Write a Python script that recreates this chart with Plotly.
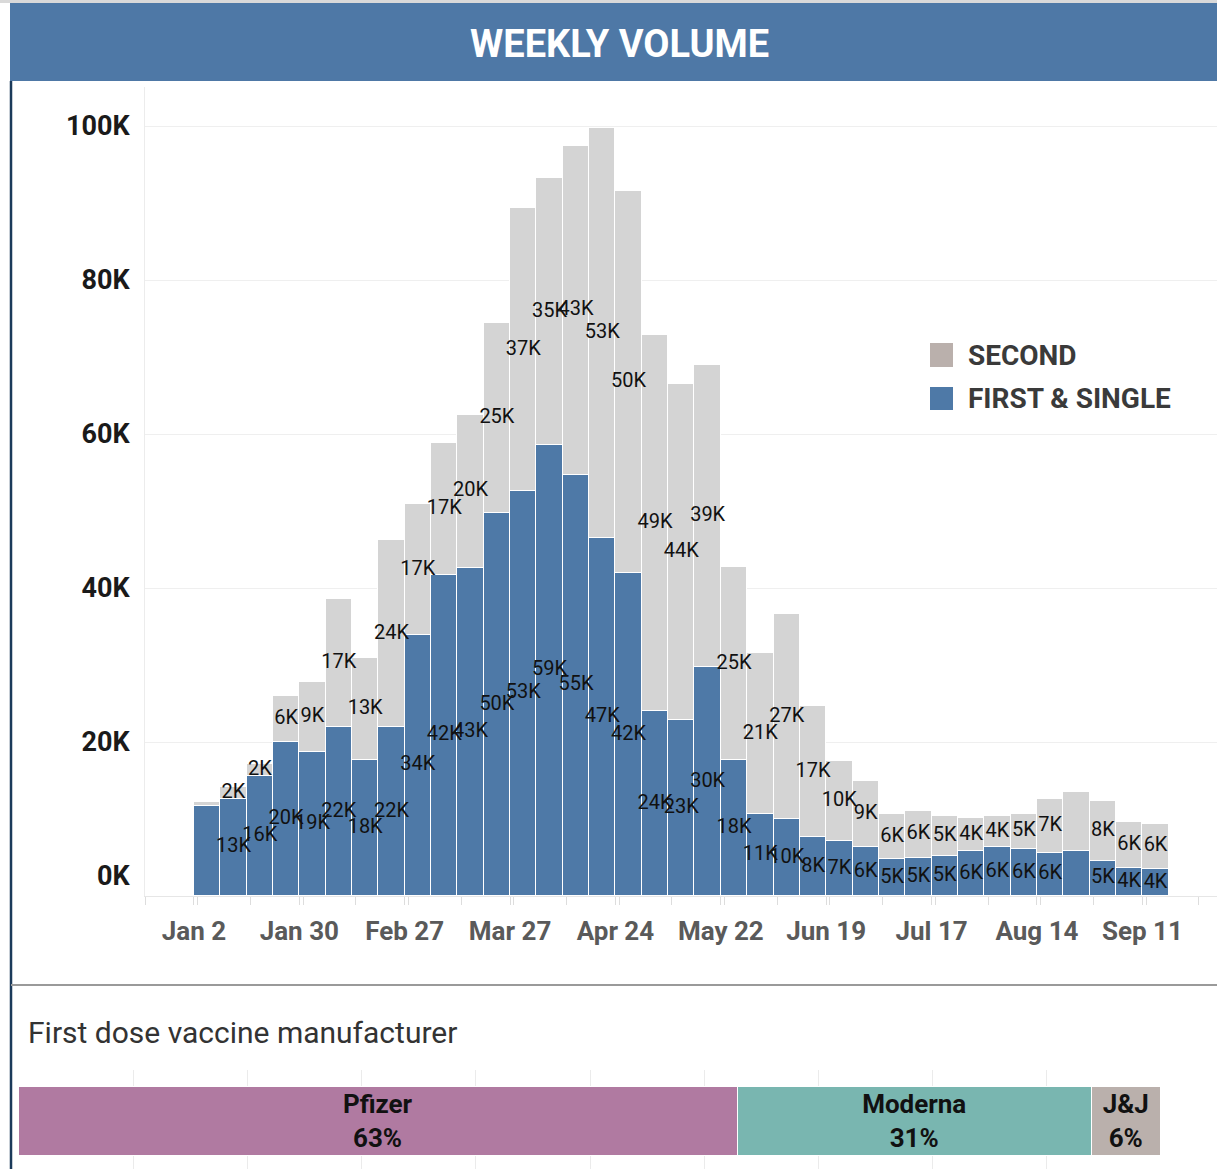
import pandas as pd
import plotly.graph_objects as go

# ---------------- data ----------------
first_dose = [11.7, 12.6, 15.6, 20.0, 18.7, 21.9, 17.6, 21.9, 33.9, 41.7, 42.6, 49.7, 52.6,
              58.6, 54.7, 46.5, 41.9, 24.0, 22.9, 29.7, 17.6, 10.7, 10.0, 7.6, 7.1, 6.3,
              4.8, 5.0, 5.2, 5.8, 6.3, 6.1, 5.6, 5.8, 4.6, 3.6, 3.5]
second_dose = [0.5, 1.5, 1.6, 6.0, 9.1, 16.7, 13.3, 24.3, 17.0, 17.1, 19.9, 24.7, 36.7,
               34.6, 42.7, 53.3, 49.7, 48.9, 43.6, 39.3, 25.1, 20.8, 26.6, 17.1, 10.4, 8.6,
               5.8, 6.0, 5.2, 4.3, 4.1, 4.6, 7.0, 7.7, 7.8, 6.0, 5.9]
hidden_labels = [0, 33]          # weeks whose labels are not shown in the original
weeks = pd.date_range("2021-01-02", periods=len(first_dose), freq="7D")

y_tickvals = [20, 40, 60, 80, 100]
y_ticktext = ["20K", "40K", "60K", "80K", "100K"]
y_zero_label = "0K"

makers = ["Pfizer", "Moderna", "J&J"]
maker_share = [63, 31, 6]
maker_colors = ["#b07aa1", "#79b6b0", "#bab0ac"]

# ---------------- styling ----------------
W, H = 1217, 1169
FONT = "Roboto, Liberation Sans, sans-serif"
BLUE = "#4e79a7"
GRAY = "#d4d4d4"
DAY = 86400000


def px_x(p):
    return p / W


def px_y(p):
    return 1 - p / H


def labels(vals):
    return ["" if i in hidden_labels else f"{int(v + 0.5)}K" for i, v in enumerate(vals)]


period = dict(x=weeks, xperiod=7 * DAY, xperiod0="2021-01-02", xperiodalignment="middle",
              xaxis="x", yaxis="y", showlegend=False)

fig = go.Figure()
fig.add_trace(go.Bar(y=first_dose, name="FIRST & SINGLE", hoverinfo="skip",
                     marker=dict(color=BLUE, line=dict(color="white", width=1.3)), **period))
fig.add_trace(go.Bar(y=second_dose, name="SECOND", hoverinfo="skip",
                     marker=dict(color=GRAY, line=dict(color="white", width=1.3)), **period))

# segment labels, centred in each stacked segment (drawn above all bars)
first_mid = [v / 2 for v in first_dose]
second_mid = [f + s / 2 for f, s in zip(first_dose, second_dose)]
fig.add_trace(go.Scatter(y=first_mid, mode="text", text=labels(first_dose), cliponaxis=False,
                         textfont=dict(family=FONT, size=20, color="#111111"),
                         hoverinfo="skip", **period))
fig.add_trace(go.Scatter(y=second_mid, mode="text", text=labels(second_dose), cliponaxis=False,
                         textfont=dict(family=FONT, size=20, color="#111111"),
                         hoverinfo="skip", **period))

for name, share, col in zip(makers, maker_share, maker_colors):
    fig.add_trace(go.Bar(
        x=[share], y=[0], orientation="h", width=1, name=name,
        text=[f"{name}<br>{share}%"], textposition="inside", insidetextanchor="middle",
        textangle=0, constraintext="none", cliponaxis=False, showlegend=False,
        insidetextfont=dict(family=FONT, size=26, color="#111111", weight="bold"),
        marker=dict(color=col, line=dict(color="white", width=1.5)),
        xaxis="x2", yaxis="y2", hoverinfo="skip",
    ))

# ---------------- layout ----------------
shapes = [
    dict(type="rect", xref="paper", yref="paper", x0=0, x1=1, y0=px_y(3), y1=1,
         fillcolor="#d9d9d9", line=dict(width=0), layer="above"),
    dict(type="rect", xref="paper", yref="paper", x0=px_x(10), x1=1, y0=px_y(81), y1=px_y(3),
         fillcolor="#4e78a6", line=dict(width=0), layer="above"),
    dict(type="line", xref="paper", yref="paper", x0=px_x(11), x1=px_x(11), y0=0, y1=px_y(81),
         line=dict(color="#1b3a5a", width=2.5)),
    dict(type="line", xref="paper", yref="paper", x0=px_x(11), x1=1, y0=px_y(985), y1=px_y(985),
         line=dict(color="#9a9a9a", width=2)),
    dict(type="rect", xref="paper", yref="paper", x0=px_x(930), x1=px_x(953),
         y0=px_y(367), y1=px_y(343), fillcolor="#bab0ac", line=dict(width=0)),
    dict(type="rect", xref="paper", yref="paper", x0=px_x(930), x1=px_x(953),
         y0=px_y(410), y1=px_y(387), fillcolor=BLUE, line=dict(width=0)),
]

annotations = [
    dict(text="WEEKLY VOLUME", xref="paper", yref="paper", x=px_x(619), y=px_y(44),
         xanchor="center", yanchor="middle", showarrow=False,
         font=dict(family=FONT, size=38, color="white", weight="bold")),
    dict(text="SECOND", xref="paper", yref="paper", x=px_x(966), y=px_y(355),
         xanchor="left", yanchor="middle", showarrow=False,
         font=dict(family=FONT, size=28, color="#3a3a3a", weight="bold")),
    dict(text="FIRST &amp; SINGLE", xref="paper", yref="paper", x=px_x(966), y=px_y(398),
         xanchor="left", yanchor="middle", showarrow=False,
         font=dict(family=FONT, size=28, color="#3a3a3a", weight="bold")),
    dict(text="First dose vaccine manufacturer", xref="paper", yref="paper",
         x=px_x(26), y=px_y(1032), xanchor="left", yanchor="middle", showarrow=False,
         font=dict(family=FONT, size=30, color="#333333")),
    # bottom y tick label, lifted above the baseline as in the original
    dict(text=y_zero_label, xref="paper", yref="y", x=px_x(132), y=0, yshift=20,
         xanchor="right", yanchor="middle", showarrow=False,
         font=dict(family=FONT, size=27, color="#1a1a1a", weight="bold")),
]

fig.update_layout(
    width=W, height=H, margin=dict(l=0, r=0, t=0, b=0),
    paper_bgcolor="white", plot_bgcolor="white",
    barmode="stack", bargap=0, showlegend=False,
    shapes=shapes, annotations=annotations,
    xaxis=dict(
        type="date", domain=[px_x(145), 1], anchor="y",
        range=["2020-12-20", "2021-09-30 20:00"],
        tick0="2021-01-02", dtick=28 * DAY, tickformat="%b %-d", tickangle=0,
        ticks="outside", ticklen=8, tickcolor="#dddddd",
        minor=dict(dtick=14 * DAY, ticks="outside", ticklen=8, tickcolor="#dddddd"),
        showgrid=False, showline=True, linecolor="#e6e6e6", zeroline=False,
        ticklabelstandoff=4,
        tickfont=dict(family=FONT, size=26, color="#5a5a5a", weight="bold"),
    ),
    yaxis=dict(
        domain=[px_y(896), px_y(87)], anchor="x",
        range=[0, (896 - 87) / 7.7],
        tickvals=y_tickvals, ticktext=y_ticktext,
        showgrid=True, gridcolor="#efefef", gridwidth=1,
        showline=True, linecolor="#ececec", zeroline=False,
        ticks="", ticklabelstandoff=9,
        tickfont=dict(family=FONT, size=27, color="#1a1a1a", weight="bold"),
    ),
    xaxis2=dict(
        domain=[px_x(19), px_x(1161)], anchor="y2", range=[0, 100],
        dtick=10, showgrid=True, gridcolor="#ebebeb", showticklabels=False,
        zeroline=False, showline=False,
    ),
    yaxis2=dict(
        domain=[0, px_y(1070)], anchor="x2", range=[-0.6884, 0.7464],
        showgrid=False, showticklabels=False, zeroline=False, showline=False,
    ),
)

fig.write_html(
    "out.html",
    config={"displayModeBar": False},
    post_script=("document.documentElement.style.margin='0';"
                 "document.body.style.margin='0';"
                 "document.body.style.padding='0';"
                 "document.body.style.overflow='hidden';"
                 "document.documentElement.style.overflow='hidden';"
                 "var gd=document.getElementById('{plot_id}');"
                 "gd.style.position='absolute';gd.style.top='0px';gd.style.left='0px';"),
)
